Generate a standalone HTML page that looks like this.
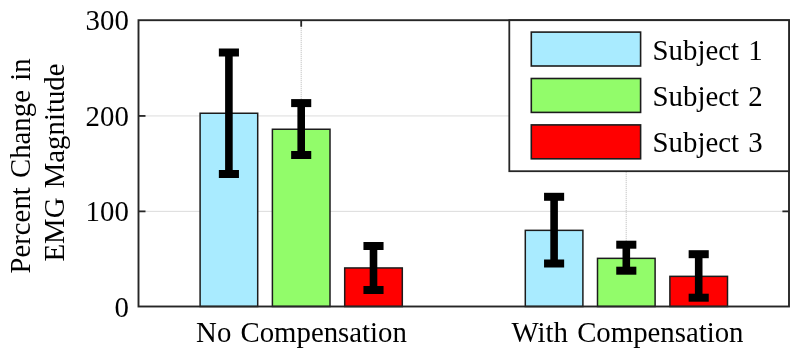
<!DOCTYPE html>
<html><head><meta charset="utf-8"><title>EMG chart</title>
<style>html,body{margin:0;padding:0;background:#fff}svg{display:block;filter:blur(0.4px)}text{font-family:"Liberation Serif","Times New Roman",serif;font-size:28.8px;fill:#000;word-spacing:2px}</style></head>
<body>
<svg width="800" height="359" viewBox="0 0 800 359">
<rect x="0" y="0" width="800" height="359" fill="#fff"/>
<line x1="138.5" y1="211.37" x2="789.0" y2="211.37" stroke="#a6a6a6" stroke-width="0.8" stroke-dasharray="1 1"/>
<line x1="138.5" y1="115.93" x2="789.0" y2="115.93" stroke="#a6a6a6" stroke-width="0.8" stroke-dasharray="1 1"/>
<line x1="301.20" y1="20.2" x2="301.20" y2="306.5" stroke="#a6a6a6" stroke-width="0.8" stroke-dasharray="1 1"/>
<line x1="626.20" y1="20.2" x2="626.20" y2="306.5" stroke="#a6a6a6" stroke-width="0.8" stroke-dasharray="1 1"/>
<rect x="200.10" y="113.25" width="57.60" height="193.25" fill="#A9EBFF" stroke="#1c1c1c" stroke-width="1.5"/>
<rect x="272.40" y="129.25" width="57.60" height="177.25" fill="#92FC6A" stroke="#1c1c1c" stroke-width="1.5"/>
<rect x="344.70" y="267.95" width="57.60" height="38.55" fill="#FF0000" stroke="#1c1c1c" stroke-width="1.5"/>
<rect x="525.30" y="230.35" width="57.60" height="76.15" fill="#A9EBFF" stroke="#1c1c1c" stroke-width="1.5"/>
<rect x="597.50" y="258.35" width="57.60" height="48.15" fill="#92FC6A" stroke="#1c1c1c" stroke-width="1.5"/>
<rect x="669.90" y="276.35" width="57.60" height="30.15" fill="#FF0000" stroke="#1c1c1c" stroke-width="1.5"/>
<rect x="138.5" y="20.2" width="650.5" height="286.3" fill="none" stroke="#262626" stroke-width="1.9"/>
<line x1="138.5" y1="211.37" x2="145.5" y2="211.37" stroke="#262626" stroke-width="1.8"/>
<line x1="789.0" y1="211.37" x2="782.4" y2="211.37" stroke="#262626" stroke-width="1.8"/>
<line x1="138.5" y1="115.93" x2="145.5" y2="115.93" stroke="#262626" stroke-width="1.8"/>
<line x1="789.0" y1="115.93" x2="782.4" y2="115.93" stroke="#262626" stroke-width="1.8"/>
<line x1="301.20" y1="20.2" x2="301.20" y2="26.7" stroke="#262626" stroke-width="1.8"/>
<line x1="626.20" y1="20.2" x2="626.20" y2="26.7" stroke="#262626" stroke-width="1.8"/>
<rect x="225.10" y="52.50" width="7.60" height="121.50" fill="#000"/>
<rect x="218.85" y="48.50" width="20.10" height="8.00" fill="#000"/>
<rect x="218.85" y="170.00" width="20.10" height="8.00" fill="#000"/>
<rect x="297.40" y="103.10" width="7.60" height="51.90" fill="#000"/>
<rect x="291.15" y="99.10" width="20.10" height="8.00" fill="#000"/>
<rect x="291.15" y="151.00" width="20.10" height="8.00" fill="#000"/>
<rect x="369.70" y="246.00" width="7.60" height="44.00" fill="#000"/>
<rect x="363.45" y="242.00" width="20.10" height="8.00" fill="#000"/>
<rect x="363.45" y="286.00" width="20.10" height="8.00" fill="#000"/>
<rect x="550.30" y="196.80" width="7.60" height="66.70" fill="#000"/>
<rect x="544.05" y="192.80" width="20.10" height="8.00" fill="#000"/>
<rect x="544.05" y="259.50" width="20.10" height="8.00" fill="#000"/>
<rect x="622.50" y="244.70" width="7.60" height="26.00" fill="#000"/>
<rect x="616.25" y="240.70" width="20.10" height="8.00" fill="#000"/>
<rect x="616.25" y="266.70" width="20.10" height="8.00" fill="#000"/>
<rect x="694.90" y="254.20" width="7.60" height="43.50" fill="#000"/>
<rect x="688.65" y="250.20" width="20.10" height="8.00" fill="#000"/>
<rect x="688.65" y="293.70" width="20.10" height="8.00" fill="#000"/>
<rect x="509.3" y="20.2" width="279.7" height="151.0" fill="#fff" stroke="#262626" stroke-width="1.8"/>
<rect x="531.3" y="32.10" width="109.3" height="33.9" fill="#A9EBFF" stroke="#1c1c1c" stroke-width="1.6"/>
<text x="652.6" y="59.50">Subject 1</text>
<rect x="531.3" y="78.50" width="109.3" height="33.9" fill="#92FC6A" stroke="#1c1c1c" stroke-width="1.6"/>
<text x="652.6" y="105.80">Subject 2</text>
<rect x="531.3" y="124.90" width="109.3" height="33.9" fill="#FF0000" stroke="#1c1c1c" stroke-width="1.6"/>
<text x="652.6" y="152.10">Subject 3</text>
<text x="128.8" y="316.60" text-anchor="end">0</text>
<text x="128.8" y="221.17" text-anchor="end">100</text>
<text x="128.8" y="125.73" text-anchor="end">200</text>
<text x="128.8" y="30.30" text-anchor="end">300</text>
<text x="301.5" y="342.4" text-anchor="middle">No Compensation</text>
<text x="627.5" y="342.4" text-anchor="middle">With Compensation</text>
<text transform="translate(30.1,166) rotate(-90)" text-anchor="middle">Percent Change in</text>
<text transform="translate(64.1,162.5) rotate(-90)" text-anchor="middle">EMG Magnitude</text>
</svg>
</body></html>
